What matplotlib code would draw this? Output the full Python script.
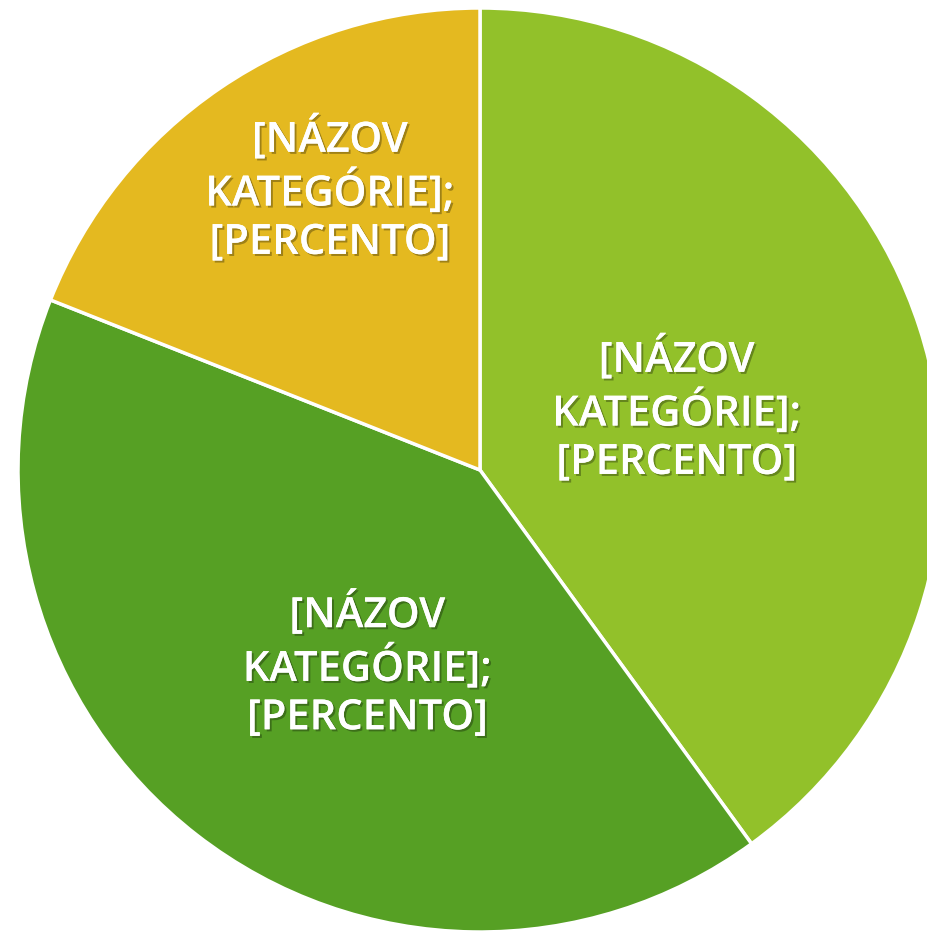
import numpy as np
import matplotlib
matplotlib.use("Agg")
import matplotlib.pyplot as plt
import matplotlib.patheffects as pe

# data
labels = ["[NÁZOV\nKATEGÓRIE];\n[PERCENTO]"] * 3
values = [40, 41, 19]
colors = ["#92C12A", "#56A024", "#E4B920"]
label_dist = [0.445, 0.488, 0.688]
label_shift = [-1, 7.8, -6]   # degrees, labels were nudged a bit

fig = plt.figure(figsize=(9.27, 9.33), dpi=100)
W, H = 927, 933
cx, cy, r = 480, 470, 462
ax = fig.add_axes([(cx - r) / W, (H - cy - r) / H, 2 * r / W, 2 * r / H])

wedges, _ = ax.pie(values, colors=colors, startangle=90, counterclock=False,
                   radius=1, wedgeprops=dict(edgecolor="white", linewidth=2.5))
for w in wedges:
    w.set_clip_on(False)
ax.set_xlim(-1, 1)
ax.set_ylim(-1, 1)
ax.set_aspect("equal")
ax.axis("off")

for w, lab, d, s in zip(wedges, labels, label_dist, label_shift):
    ang = np.deg2rad((w.theta1 + w.theta2) / 2 + s)
    ax.text(d * np.cos(ang), d * np.sin(ang), lab, ha="center", va="center",
            fontsize=30, fontweight="semibold", color="white", family="Open Sans",
            linespacing=1.2,
            path_effects=[pe.withSimplePatchShadow(offset=(1.5, -1.5), shadow_rgbFace="black", alpha=0.3),
                          pe.Normal()])

fig.savefig("out.png", dpi=100)
